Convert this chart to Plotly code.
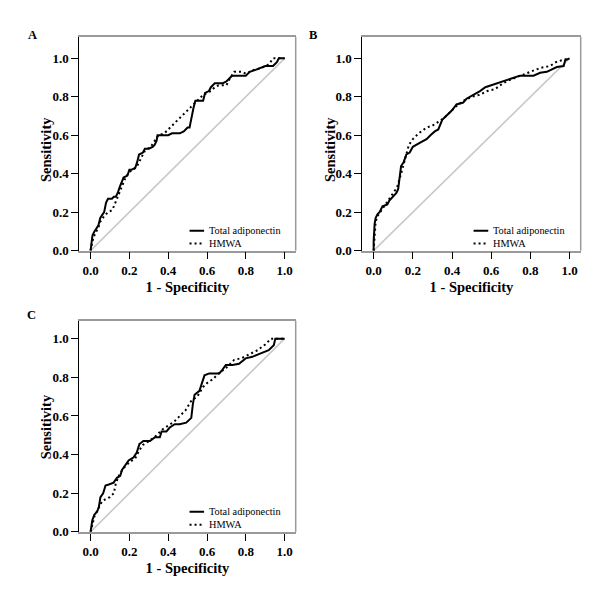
import plotly.graph_objects as go

# ---------------- data ----------------
tick_vals = [0.0, 0.2, 0.4, 0.6, 0.8, 1.0]
tick_text = ["0.0", "0.2", "0.4", "0.6", "0.8", "1.0"]
panel_labels = ["A", "B", "C"]
series_names = ["Total adiponectin", "HMWA"]
x_title = "1 - Specificity"
y_title = "Sensitivity"

a_total_x = [0, 0.005, 0.01, 0.02, 0.04, 0.05, 0.07, 0.08, 0.09, 0.11, 0.12, 0.13, 0.14, 0.15, 0.16, 0.17,
             0.19, 0.2, 0.21, 0.23, 0.24, 0.25, 0.27, 0.28, 0.3, 0.32, 0.33, 0.34, 0.345, 0.38, 0.4, 0.42,
             0.46, 0.48, 0.5, 0.51, 0.52, 0.53, 0.54, 0.58, 0.59, 0.61, 0.62, 0.64, 0.68, 0.7, 0.72, 0.73,
             0.8, 0.82, 0.85, 0.88, 0.9, 0.94, 0.96, 0.97, 1.0]
a_total_y = [0, 0.05, 0.08, 0.1, 0.13, 0.17, 0.2, 0.25, 0.27, 0.27, 0.28, 0.28, 0.3, 0.33, 0.36, 0.38,
             0.39, 0.42, 0.42, 0.43, 0.46, 0.5, 0.51, 0.53, 0.53, 0.54, 0.55, 0.57, 0.6, 0.6, 0.6, 0.61,
             0.61, 0.62, 0.64, 0.64, 0.7, 0.74, 0.78, 0.78, 0.82, 0.83, 0.85, 0.87, 0.87, 0.88, 0.9, 0.91,
             0.91, 0.93, 0.94, 0.95, 0.96, 0.96, 0.98, 1.0, 1.0]
a_hmwa_x = [0, 0.01, 0.02, 0.04, 0.05, 0.07, 0.09, 0.11, 0.12, 0.14, 0.16, 0.18, 0.2, 0.22, 0.24, 0.26,
            0.28, 0.31, 0.33, 0.35, 0.38, 0.41, 0.44, 0.47, 0.5, 0.53, 0.56, 0.58, 0.6, 0.62, 0.64, 0.66,
            0.7, 0.72, 0.74, 0.78, 0.8, 0.84, 0.88, 0.92, 0.94, 1.0]
a_hmwa_y = [0, 0.05, 0.08, 0.12, 0.15, 0.18, 0.2, 0.21, 0.23, 0.28, 0.34, 0.38, 0.41, 0.42, 0.44, 0.48,
            0.52, 0.54, 0.57, 0.6, 0.61, 0.64, 0.67, 0.7, 0.73, 0.76, 0.79, 0.81, 0.82, 0.83, 0.85, 0.86,
            0.86, 0.9, 0.93, 0.93, 0.92, 0.94, 0.95, 0.97, 1.0, 1.0]

b_total_x = [0, 0, 0.005, 0.01, 0.02, 0.03, 0.045, 0.07, 0.08, 0.1, 0.116, 0.125, 0.133, 0.14, 0.153, 0.167,
             0.184, 0.2, 0.235, 0.27, 0.29, 0.312, 0.33, 0.35, 0.37, 0.4, 0.423, 0.457, 0.474, 0.51, 0.543,
             0.57, 0.6, 0.645, 0.696, 0.747, 0.816, 0.85, 0.884, 0.935, 0.97, 0.978, 1.0]
b_total_y = [0, 0.05, 0.14, 0.17, 0.19, 0.2, 0.23, 0.24, 0.26, 0.28, 0.3, 0.32, 0.38, 0.44, 0.46, 0.5,
             0.51, 0.54, 0.56, 0.58, 0.6, 0.62, 0.63, 0.68, 0.7, 0.73, 0.76, 0.77, 0.79, 0.81, 0.83,
             0.85, 0.86, 0.875, 0.89, 0.91, 0.91, 0.925, 0.93, 0.955, 0.96, 0.99, 1.0]
b_hmwa_x = [0, 0.005, 0.01, 0.02, 0.04, 0.06, 0.08, 0.1, 0.12, 0.14, 0.16, 0.18, 0.2, 0.23, 0.27, 0.3,
            0.33, 0.36, 0.38, 0.42, 0.46, 0.5, 0.54, 0.58, 0.62, 0.66, 0.7, 0.75, 0.8, 0.85, 0.9, 0.93,
            0.96, 1.0]
b_hmwa_y = [0, 0.1, 0.15, 0.18, 0.21, 0.24, 0.27, 0.3, 0.33, 0.4, 0.48, 0.55, 0.58, 0.61, 0.64, 0.65,
            0.67, 0.69, 0.71, 0.75, 0.78, 0.8, 0.81, 0.83, 0.84, 0.87, 0.89, 0.91, 0.93, 0.95, 0.96, 0.98,
            0.99, 1.0]

c_total_x = [0, 0.003, 0.009, 0.02, 0.034, 0.043, 0.051, 0.065, 0.077, 0.094, 0.119, 0.136, 0.153, 0.162,
             0.179, 0.196, 0.213, 0.221, 0.238, 0.252, 0.259, 0.272, 0.306, 0.332, 0.357, 0.366, 0.391,
             0.408, 0.434, 0.459, 0.493, 0.519, 0.527, 0.536, 0.561, 0.57, 0.587, 0.612, 0.663, 0.68,
             0.697, 0.731, 0.765, 0.799, 0.833, 0.867, 0.918, 0.944, 0.952, 1.0]
c_total_y = [0, 0.03, 0.06, 0.09, 0.105, 0.13, 0.18, 0.2, 0.24, 0.245, 0.255, 0.28, 0.29, 0.32,
             0.345, 0.37, 0.38, 0.385, 0.41, 0.455, 0.46, 0.47, 0.47, 0.49, 0.49, 0.52, 0.52,
             0.54, 0.557, 0.557, 0.565, 0.59, 0.66, 0.71, 0.73, 0.76, 0.81, 0.82, 0.82, 0.84,
             0.864, 0.864, 0.87, 0.898, 0.906, 0.92, 0.94, 0.966, 1.0, 1.0]
c_hmwa_x = [0, 0.01, 0.02, 0.04, 0.06, 0.08, 0.1, 0.12, 0.13, 0.15, 0.17, 0.2, 0.23, 0.25, 0.27, 0.3,
            0.33, 0.37, 0.4, 0.43, 0.46, 0.49, 0.52, 0.55, 0.58, 0.6, 0.63, 0.66, 0.7, 0.74, 0.78, 0.82,
            0.86, 0.9, 0.93, 1.0]
c_hmwa_y = [0, 0.04, 0.08, 0.12, 0.16, 0.17, 0.18, 0.2, 0.25, 0.3, 0.33, 0.36, 0.38, 0.42, 0.45, 0.47,
            0.49, 0.53, 0.55, 0.57, 0.6, 0.63, 0.68, 0.7, 0.75, 0.77, 0.79, 0.82, 0.85, 0.89, 0.9, 0.92,
            0.94, 0.97, 1.0, 1.0]

ref_x = [0, 1]
ref_y = [0, 1]

# ---------------- figure ----------------
SERIF = "Liberation Serif"
BLACK = "#000000"
FRAME = "#9a9a9a"
DIAG = "#c8c8c8"
DOT = "2px,3px"
W, H = 600, 604


def xd(px0, px1):
    return [px0 / W, px1 / W]


def yd(top, bottom):
    return [1 - bottom / H, 1 - top / H]


def px_x(px):
    return px / W


def px_y(py):
    return 1 - py / H


panels = [
    dict(total=(a_total_x, a_total_y), hmwa=(a_hmwa_x, a_hmwa_y),
         xdom=xd(79.3, 295.7), ydom=yd(37.5, 254), yr=[0, 1.111],
         label=(32, 35), ytitle=(46, 152)),
    dict(total=(b_total_x, b_total_y), hmwa=(b_hmwa_x, b_hmwa_y),
         xdom=xd(362.3, 580.7), ydom=yd(37.5, 254), yr=[0, 1.111],
         label=(313, 35), ytitle=(330, 152)),
    dict(total=(c_total_x, c_total_y), hmwa=(c_hmwa_x, c_hmwa_y),
         xdom=xd(79.3, 295.7), ydom=yd(325, 539), yr=[0, 1.093],
         label=(31, 319), ytitle=(46, 433)),
]

fig = go.Figure()
layout = dict(
    width=W, height=H, margin=dict(l=0, r=0, t=0, b=0),
    paper_bgcolor="white", plot_bgcolor="white", showlegend=False,
    font=dict(family=SERIF, color=BLACK),
)
shapes = []
annotations = []

for i, p in enumerate(panels):
    sfx = "" if i == 0 else str(i + 1)
    xa, ya = "x" + sfx, "y" + sfx
    fig.add_trace(go.Scatter(x=ref_x, y=ref_y, mode="lines", xaxis=xa, yaxis=ya,
                             line=dict(color=DIAG, width=1.6), hoverinfo="skip"))
    fig.add_trace(go.Scatter(x=p["hmwa"][0], y=p["hmwa"][1], mode="lines", name=series_names[1],
                             xaxis=xa, yaxis=ya, line=dict(color=BLACK, width=2, dash=DOT)))
    fig.add_trace(go.Scatter(x=p["total"][0], y=p["total"][1], mode="lines", name=series_names[0],
                             xaxis=xa, yaxis=ya, line=dict(color=BLACK, width=2)))

    layout["xaxis" + sfx] = dict(
        domain=p["xdom"], range=[-0.058, 1.057], anchor=ya,
        tickvals=tick_vals, ticktext=tick_text, ticks="outside", ticklen=7, tickwidth=1,
        tickcolor=BLACK, showline=True, linecolor=FRAME, linewidth=1.5, mirror=True,
        showgrid=False, zeroline=False,
        tickfont=dict(family=SERIF, size=13, color=BLACK, weight="bold"),
        title=dict(text=x_title, standoff=5,
                   font=dict(family=SERIF, size=14.5, color=BLACK, weight="bold")),
    )
    layout["yaxis" + sfx] = dict(
        domain=p["ydom"], range=p["yr"], anchor=xa,
        tickvals=tick_vals, ticktext=tick_text, ticks="outside", ticklen=7, tickwidth=1,
        tickcolor=BLACK, showline=True, linecolor=BLACK, linewidth=1, mirror=False,
        showgrid=False, zeroline=False,
        tickfont=dict(family=SERIF, size=13, color=BLACK, weight="bold"),
    )
    # right frame edge (grey)
    shapes.append(dict(type="line", xref=xa + " domain", yref=ya + " domain",
                       x0=1, x1=1, y0=0, y1=1, line=dict(color=FRAME, width=1.5)))
    # legend samples
    shapes.append(dict(type="line", xref=xa, yref=ya, x0=0.51, x1=0.585, y0=0.104, y1=0.104,
                       line=dict(color=BLACK, width=2)))
    shapes.append(dict(type="line", xref=xa, yref=ya, x0=0.51, x1=0.585, y0=0.037, y1=0.037,
                       line=dict(color=BLACK, width=2, dash=DOT)))
    annotations.append(dict(xref=xa, yref=ya, x=0.598, y=0.104, text=series_names[0], showarrow=False,
                            xanchor="left", yanchor="middle",
                            font=dict(family=SERIF, size=10.3, color=BLACK)))
    annotations.append(dict(xref=xa, yref=ya, x=0.598, y=0.037, text=series_names[1], showarrow=False,
                            xanchor="left", yanchor="middle",
                            font=dict(family=SERIF, size=10.3, color=BLACK)))
    # y axis title
    tx, ty = p["ytitle"]
    annotations.append(dict(xref="paper", yref="paper", x=px_x(tx), y=px_y(ty), text=y_title,
                            showarrow=False, textangle=-90, xanchor="center", yanchor="middle",
                            font=dict(family=SERIF, size=14.5, color=BLACK, weight="bold")))
    # panel letter
    lx, ly = p["label"]
    annotations.append(dict(xref="paper", yref="paper", x=px_x(lx), y=px_y(ly),
                            text=panel_labels[i], showarrow=False, xanchor="center", yanchor="middle",
                            font=dict(family=SERIF, size=12.5, color=BLACK, weight="bold")))

layout["shapes"] = shapes
layout["annotations"] = annotations
fig.update_layout(**layout)
fig.write_html("out.html", config={"displayModeBar": False},
               post_script="document.body.style.margin='0';document.body.style.padding='0';")
